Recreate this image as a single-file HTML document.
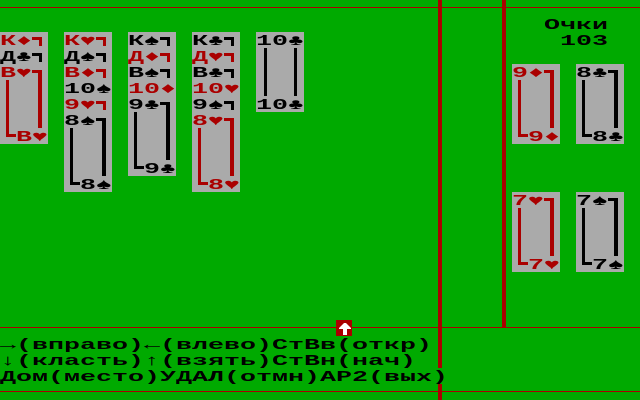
<!DOCTYPE html>
<html><head><meta charset="utf-8"><style>
html,body{margin:0;padding:0;background:#00aa00;}
svg{display:block}
text{font-family:"Liberation Mono","DejaVu Sans Mono",monospace;font-weight:bold;font-size:15px}
.r{fill:#aa0000}.k{fill:#000}
</style></head><body>
<svg width="640" height="400" viewBox="0 0 640 400" xmlns="http://www.w3.org/2000/svg">
<rect width="640" height="400" fill="#00aa00"/>
<!-- frame lines -->
<rect x="0" y="7" width="640" height="1" fill="#aa0000"/>
<rect x="0" y="327" width="640" height="1" fill="#aa0000"/>
<rect x="0" y="391" width="640" height="1" fill="#aa0000"/>
<rect x="438" y="0" width="4" height="368" fill="#aa0000"/>
<rect x="438" y="384" width="4" height="16" fill="#aa0000"/>
<rect x="502" y="0" width="4" height="327" fill="#aa0000"/>

<!-- cards backgrounds -->
<rect x="0" y="32" width="48" height="112" fill="#aaaaaa"/>
<rect x="64" y="32" width="48" height="160" fill="#aaaaaa"/>
<rect x="128" y="32" width="48" height="144" fill="#aaaaaa"/>
<rect x="192" y="32" width="48" height="160" fill="#aaaaaa"/>
<rect x="256" y="32" width="48" height="80" fill="#aaaaaa"/>
<rect x="512" y="64" width="48" height="80" fill="#aaaaaa"/>
<rect x="576" y="64" width="48" height="80" fill="#aaaaaa"/>
<rect x="512" y="192" width="48" height="80" fill="#aaaaaa"/>
<rect x="576" y="192" width="48" height="80" fill="#aaaaaa"/>

<!-- Column 1 -->
<text class="r" x="0" y="45" textLength="32" lengthAdjust="spacingAndGlyphs">К♦</text>
<path d="M32 37h10v9h-3v-6h-7z" fill="#aa0000"/>
<text class="k" x="0" y="61" textLength="32" lengthAdjust="spacingAndGlyphs">Д♣</text>
<path d="M32 53h10v9h-3v-6h-7z" fill="#000"/>
<text class="r" x="0" y="77" textLength="32" lengthAdjust="spacingAndGlyphs">В♥</text>
<path d="M32 70h10v58h-4v-55h-6z" fill="#aa0000"/>
<path d="M6 80h3v54h7v3h-10z" fill="#aa0000"/>
<text class="r" x="16" y="141" textLength="32" lengthAdjust="spacingAndGlyphs">В♥</text>

<!-- Column 2 -->
<text class="r" x="64" y="45" textLength="32" lengthAdjust="spacingAndGlyphs">К♥</text>
<path d="M96 37h10v9h-3v-6h-7z" fill="#aa0000"/>
<text class="k" x="64" y="61" textLength="32" lengthAdjust="spacingAndGlyphs">Д♠</text>
<path d="M96 53h10v9h-3v-6h-7z" fill="#000"/>
<text class="r" x="64" y="77" textLength="32" lengthAdjust="spacingAndGlyphs">В♦</text>
<path d="M96 69h10v9h-3v-6h-7z" fill="#aa0000"/>
<text class="k" x="64" y="93" textLength="48" lengthAdjust="spacingAndGlyphs">10♠</text>
<text class="r" x="64" y="109" textLength="32" lengthAdjust="spacingAndGlyphs">9♥</text>
<path d="M96 101h10v9h-3v-6h-7z" fill="#aa0000"/>
<text class="k" x="64" y="125" textLength="32" lengthAdjust="spacingAndGlyphs">8♠</text>
<path d="M96 118h10v58h-4v-55h-6z" fill="#000"/>
<path d="M70 128h3v54h7v3h-10z" fill="#000"/>
<text class="k" x="80" y="189" textLength="32" lengthAdjust="spacingAndGlyphs">8♠</text>

<!-- Column 3 -->
<text class="k" x="128" y="45" textLength="32" lengthAdjust="spacingAndGlyphs">К♠</text>
<path d="M160 37h10v9h-3v-6h-7z" fill="#000"/>
<text class="r" x="128" y="61" textLength="32" lengthAdjust="spacingAndGlyphs">Д♦</text>
<path d="M160 53h10v9h-3v-6h-7z" fill="#aa0000"/>
<text class="k" x="128" y="77" textLength="32" lengthAdjust="spacingAndGlyphs">В♠</text>
<path d="M160 69h10v9h-3v-6h-7z" fill="#000"/>
<text class="r" x="128" y="93" textLength="48" lengthAdjust="spacingAndGlyphs">10♦</text>
<text class="k" x="128" y="109" textLength="32" lengthAdjust="spacingAndGlyphs">9♣</text>
<path d="M160 102h10v58h-4v-55h-6z" fill="#000"/>
<path d="M134 112h3v54h7v3h-10z" fill="#000"/>
<text class="k" x="144" y="173" textLength="32" lengthAdjust="spacingAndGlyphs">9♣</text>

<!-- Column 4 -->
<text class="k" x="192" y="45" textLength="32" lengthAdjust="spacingAndGlyphs">К♣</text>
<path d="M224 37h10v9h-3v-6h-7z" fill="#000"/>
<text class="r" x="192" y="61" textLength="32" lengthAdjust="spacingAndGlyphs">Д♥</text>
<path d="M224 53h10v9h-3v-6h-7z" fill="#aa0000"/>
<text class="k" x="192" y="77" textLength="32" lengthAdjust="spacingAndGlyphs">В♣</text>
<path d="M224 69h10v9h-3v-6h-7z" fill="#000"/>
<text class="r" x="192" y="93" textLength="48" lengthAdjust="spacingAndGlyphs">10♥</text>
<text class="k" x="192" y="109" textLength="32" lengthAdjust="spacingAndGlyphs">9♠</text>
<path d="M224 101h10v9h-3v-6h-7z" fill="#000"/>
<text class="r" x="192" y="125" textLength="32" lengthAdjust="spacingAndGlyphs">8♥</text>
<path d="M224 118h10v58h-4v-55h-6z" fill="#aa0000"/>
<path d="M198 128h3v54h7v3h-10z" fill="#aa0000"/>
<text class="r" x="208" y="189" textLength="32" lengthAdjust="spacingAndGlyphs">8♥</text>

<!-- Column 5 -->
<text class="k" x="256" y="45" textLength="48" lengthAdjust="spacingAndGlyphs">10♣</text>
<rect x="264" y="48" width="3" height="48" fill="#000"/>
<rect x="294" y="48" width="3" height="48" fill="#000"/>
<text class="k" x="256" y="109" textLength="48" lengthAdjust="spacingAndGlyphs">10♣</text>

<!-- Score -->
<text class="k" x="544" y="29" textLength="64" lengthAdjust="spacingAndGlyphs">Очки</text>
<text class="k" x="560" y="45" textLength="48" lengthAdjust="spacingAndGlyphs">103</text>

<!-- Foundation cards -->
<text class="r" x="512" y="77" textLength="32" lengthAdjust="spacingAndGlyphs">9♦</text>
<path d="M544 70h10v58h-4v-55h-6z" fill="#aa0000"/>
<path d="M518 80h3v54h7v3h-10z" fill="#aa0000"/>
<text class="r" x="528" y="141" textLength="32" lengthAdjust="spacingAndGlyphs">9♦</text>

<text class="k" x="576" y="77" textLength="32" lengthAdjust="spacingAndGlyphs">8♣</text>
<path d="M608 70h10v58h-4v-55h-6z" fill="#000"/>
<path d="M582 80h3v54h7v3h-10z" fill="#000"/>
<text class="k" x="592" y="141" textLength="32" lengthAdjust="spacingAndGlyphs">8♣</text>

<text class="r" x="512" y="205" textLength="32" lengthAdjust="spacingAndGlyphs">7♥</text>
<path d="M544 198h10v58h-4v-55h-6z" fill="#aa0000"/>
<path d="M518 208h3v54h7v3h-10z" fill="#aa0000"/>
<text class="r" x="528" y="269" textLength="32" lengthAdjust="spacingAndGlyphs">7♥</text>

<text class="k" x="576" y="205" textLength="32" lengthAdjust="spacingAndGlyphs">7♠</text>
<path d="M608 198h10v58h-4v-55h-6z" fill="#000"/>
<path d="M582 208h3v54h7v3h-10z" fill="#000"/>
<text class="k" x="592" y="269" textLength="32" lengthAdjust="spacingAndGlyphs">7♠</text>

<!-- arrow box -->
<rect x="336" y="320" width="16" height="16" fill="#aa0000"/>
<path d="M339 327h4v-3h2v-2h2v2h2v3h4v2h-4v7h-4v-7h-4z" fill="none"/>
<path d="M339 328l5-5h2l5 5v1h-4v6h-4v-6h-4z" fill="#fff"/>

<!-- help text -->
<text class="k" x="0" y="349" textLength="432" lengthAdjust="spacingAndGlyphs">→(вправо)←(влево)СтВв(откр)</text>
<text class="k" x="0" y="365" textLength="416" lengthAdjust="spacingAndGlyphs">↓(класть)↑(взять)СтВн(нач)</text>
<text class="k" x="0" y="381" textLength="448" lengthAdjust="spacingAndGlyphs">Дом(место)УДАЛ(отмн)АР2(вых)</text>
</svg>
</body></html>
